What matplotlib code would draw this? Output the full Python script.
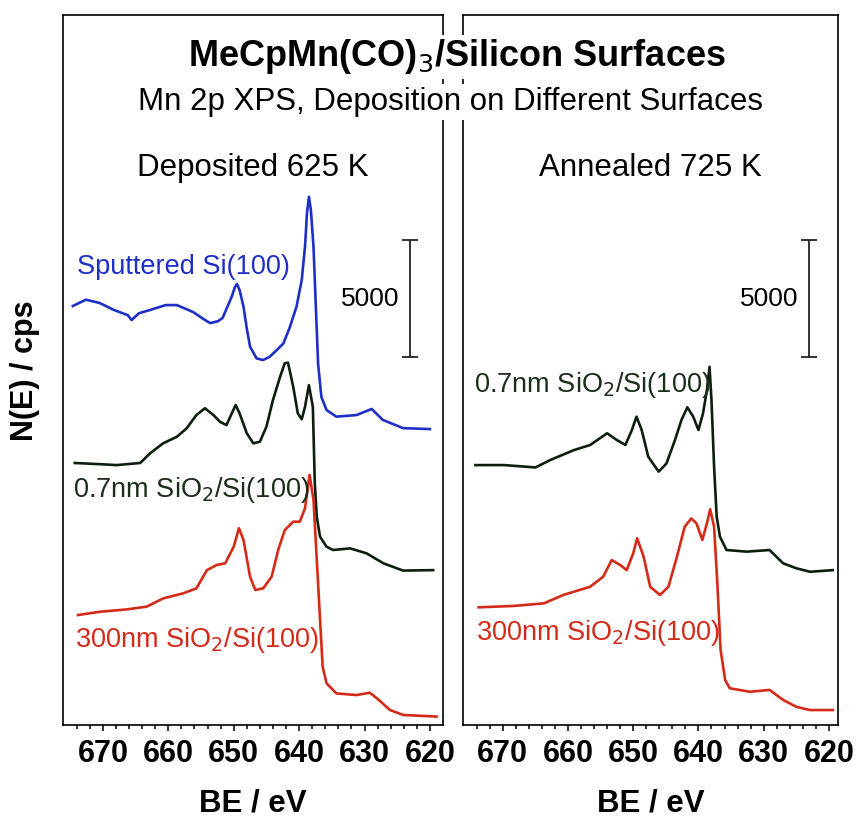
import matplotlib.pyplot as plt

plt.rcParams['font.family'] = ['Liberation Sans', 'DejaVu Sans']

# binding energy (eV) / intensity (cps), offsets included
dep_blue_be = [674.6, 672.6, 670.5, 668.3, 666.2, 665.6, 664.5, 662.8, 660.4, 658.7, 657.6,
               656.2, 654.6, 653.6, 652.4, 651.7, 650.3, 649.8, 649.5, 649.1, 648.5, 648.0,
               647.5, 646.5, 645.5, 644.5, 643.4, 642.4, 641.4, 640.4, 639.6, 639.1, 638.8,
               638.5, 638.2, 637.8, 637.4, 637.1, 636.6, 635.8, 634.3, 631.2, 628.9, 627.2,
               624.1, 620.0]
dep_blue_cps = [17910, 18180, 18040, 17740, 17520, 17310, 17600, 17740, 17950, 17950, 17820,
                17650, 17350, 17180, 17260, 17400, 18310, 18730, 18850, 18590, 17880, 16950,
                16170, 15670, 15600, 15740, 16030, 16310, 17020, 17880, 19020, 20440, 21870,
                22580, 22010, 20440, 17590, 15460, 14030, 13460, 13180, 13250, 13510, 13040,
                12690, 12650]

dep_black_be = [674.3, 670.5, 667.9, 664.3, 662.8, 660.8, 658.7, 657.2, 655.7, 654.4, 653.1,
                652.1, 651.1, 650.3, 649.7, 649.1, 648.0, 647.0, 646.0, 645.0, 644.0, 642.9,
                642.2, 641.7, 640.9, 640.2, 639.6, 639.1, 638.5, 637.9, 637.6, 637.3, 636.8,
                635.8, 634.8, 632.2, 629.7, 627.1, 624.1, 619.5]
dep_black_cps = [11200, 11150, 11110, 11200, 11610, 12040, 12320, 12680, 13250, 13540, 13250,
                 12960, 12820, 13320, 13680, 13320, 12470, 12040, 12110, 12750, 13890, 14890,
                 15460, 15490, 14460, 13320, 13070, 13600, 14530, 13600, 10330, 8900, 8050,
                 7620, 7480, 7550, 7340, 6910, 6600, 6620]

dep_red_be = [673.8, 670.5, 666.4, 663.3, 660.8, 657.7, 655.7, 654.1, 652.6, 651.3, 650.0,
              649.2, 648.5, 647.5, 646.7, 645.5, 644.2, 643.2, 642.2, 640.9, 639.9, 639.1,
              638.4, 637.8, 637.1, 636.4, 635.8, 634.3, 631.2, 629.2, 628.1, 626.1, 624.1,
              619.0]
dep_red_cps = [4700, 4840, 4940, 5060, 5410, 5630, 5840, 6620, 6840, 6910, 7620,
               8410, 7910, 6340, 5770, 5840, 6340, 7480, 8330, 8690, 8690, 9260,
               10690, 9620, 6050, 2490, 1780, 1350, 1280, 1380, 1140, 640, 430,
               360]

ann_black_be = [674.2, 669.8, 665.0, 662.7, 659.1, 656.6, 654.0, 652.5, 651.2, 650.2, 649.5,
                648.7, 647.7, 646.1, 644.9, 643.6, 642.6, 641.7, 640.8, 640.0, 639.3, 638.7,
                638.3, 638.0, 637.6, 637.2, 636.7, 635.7, 632.6, 629.1, 627.0, 625.0, 622.9,
                619.4]
ann_black_cps = [11110, 11110, 11010, 11330, 11750, 11970, 12470, 12180, 11970, 12610, 13180,
                 12610, 11470, 10830, 11180, 12180, 13040, 13580, 13180, 12610, 13320, 14320,
                 15310, 13890, 11040, 8900, 8050, 7480, 7410, 7480, 6910, 6700, 6550,
                 6620]

ann_red_be = [673.7, 668.3, 663.7, 660.7, 656.6, 654.6, 653.3, 652.0, 651.0, 650.0, 649.4,
              648.4, 647.4, 645.9, 644.6, 643.3, 642.1, 641.1, 640.3, 639.4, 638.7, 638.2,
              637.6, 637.1, 636.6, 635.9, 635.2, 632.1, 629.1, 627.0, 625.0, 622.9, 619.4]
ann_red_cps = [5030, 5090, 5200, 5560, 5910, 6340, 7050, 6840, 6620, 7340, 7980,
               7190, 5910, 5560, 5910, 7190, 8480, 8830, 8620, 7910, 8620, 9220,
               8480, 6060, 3210, 1920, 1570, 1420, 1500, 1070, 780, 640, 640]

panel_titles = ['Deposited 625 K', 'Annealed 725 K']
scale_cps = 5000
scale_center = 18230

blue = '#1e2fc6'
black = '#0c1f0c'
red = '#d42a18'
green_txt = '#1a2e1a'

fig = plt.figure(figsize=(8.58, 8.19), dpi=100)
ax1 = fig.add_axes([63/858, 1-725/819, 380/858, 710/819])
ax2 = fig.add_axes([463/858, 1-725/819, 375/858, 710/819])

ax1.plot(dep_blue_be, dep_blue_cps, color=blue, lw=1.9)
ax1.plot(dep_black_be, dep_black_cps, color=black, lw=1.9)
ax1.plot(dep_red_be, dep_red_cps, color=red, lw=1.9)
ax2.plot(ann_black_be, ann_black_cps, color=black, lw=1.9)
ax2.plot(ann_red_be, ann_red_cps, color=red, lw=1.9)

for ax, title, xr in [(ax1, panel_titles[0], 618.0), (ax2, panel_titles[1], 618.6)]:
    ax.set_xlim(676.1, xr)
    ax.set_ylim(0, 30350)
    ax.set_yticks([])
    ax.set_xticks([670, 660, 650, 640, 630, 620])
    ax.set_xticks(range(620, 676, 2), minor=True)
    ax.tick_params(axis='x', which='both', direction='out', width=1.1, pad=6)
    ax.tick_params(axis='x', which='major', length=4)
    ax.tick_params(axis='x', which='minor', length=3)
    for lab in ax.get_xticklabels():
        lab.set_fontweight('bold')
        lab.set_fontsize(22)
    for sp in ax.spines.values():
        sp.set_linewidth(1.2)
    ax.set_xlabel('BE / eV', fontsize=22.5, fontweight='bold', labelpad=14)
    ax.text(0.5, 0.785, title, transform=ax.transAxes, ha='center', va='center', fontsize=22.5)
    # 5000 cps scale bar
    ax.errorbar([623.0], [scale_center], yerr=scale_cps/2, color='#222222', lw=1.3,
                capsize=6, capthick=1.3)
    ax.text(624.6, scale_center - 30, '5000', ha='right', va='center', fontsize=19)

ax1.text(674.0, 19575, 'Sputtered Si(100)', color=blue, fontsize=19.5, va='center')
ax1.text(674.6, 10040, '0.7nm SiO$_2$/Si(100)', color=green_txt, fontsize=19.5, va='center')
ax1.text(674.3, 3630, '300nm SiO$_2$/Si(100)', color=red, fontsize=19.5, va='center')
ax2.text(674.4, 14530, '0.7nm SiO$_2$/Si(100)', color=green_txt, fontsize=19.5, va='center')
ax2.text(674.1, 3930, '300nm SiO$_2$/Si(100)', color=red, fontsize=19.5, va='center')

fig.text(25/858, 1-371/819, 'N(E) / cps', rotation=90, ha='center', va='center',
         fontsize=22, fontweight='bold')

box = dict(facecolor='white', edgecolor='none', pad=2)
fig.text(457/858, 1-57/819, 'MeCpMn(CO)$_3$/Silicon Surfaces', ha='center', va='center',
         fontsize=26, fontweight='bold', bbox=box)
fig.text(451/858, 1-102/819, 'Mn 2p XPS, Deposition on Different Surfaces', ha='center',
         va='center', fontsize=22.5, bbox=box)

fig.savefig('out.png', dpi=100)
